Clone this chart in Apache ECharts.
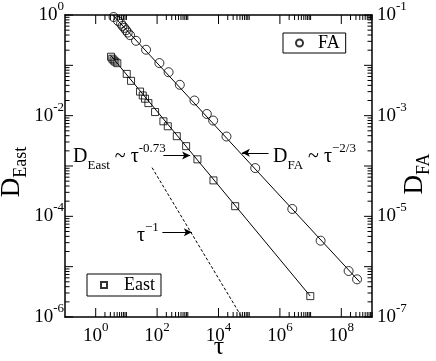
<!DOCTYPE html>
<html><head><meta charset="utf-8">
<script src="https://cdn.jsdelivr.net/npm/echarts@6/dist/echarts.min.js"></script>
<style>html,body{margin:0;padding:0;background:#fff}#c{width:436px;height:361px}</style>
</head><body><div id="c"></div>
<script>
// ---------------- data ----------------
// FA series (right axis, D_FA)
const faTau = [3.81, 5.34, 6.69, 7.48, 8.57, 9.73, 11.06, 13.15, 20.6, 43.7, 118.7, 236.7, 549, 1644, 4171, 6690, 18190, 1.57e5, 2.53e6, 2.12e7, 1.73e8, 3.26e8];
const faD = [0.0913, 0.0762, 0.0673, 0.0607, 0.0554, 0.0499, 0.0448, 0.0397, 0.0307, 0.0204, 0.0111, 0.0073, 0.0041, 0.00200, 0.00108, 8.0e-4, 3.85e-4, 9.1e-5, 1.40e-5, 3.28e-6, 8.2e-7, 5.6e-7];
// East series (left axis, D_East)
const eastTau = [3.16, 3.48, 3.86, 4.36, 5.06, 10.26, 14.17, 27.8, 34.1, 40.5, 52.0, 85.9, 160.3, 223, 438, 881, 2060, 6850, 34930, 9.77e6];
const eastD = [0.1483, 0.1355, 0.1253, 0.1181, 0.1104, 0.0676, 0.0492, 0.0301, 0.0252, 0.0217, 0.01775, 0.0118, 0.00773, 0.00616, 0.00391, 0.00248, 0.001356, 5.18e-4, 1.59e-4, 2.60e-6];
// fitted power laws (end points)
const faFitTau = [3.58, 3.96e8];
const faFitD = [0.1, 4.98e-7];
const eastFitTau = [3.04, 9.77e6];
const eastFitD = [0.159, 2.6e-6];
// reference slope tau^-1 (dashed)
const refTau = [68.6, 5.7e4];
const refD = [9.27e-4, 1e-6];
// annotation arrows (data coordinates: tail -> head)
const eastArrowTau = [160.3, 1191];
const eastArrowD = [1.61e-3, 1.61e-3];
const faArrowTau = [4.26e5, 5.78e4];
const faArrowD = [1.83e-4, 1.83e-4];
const refArrowTau = [148.6, 1352];
const refArrowD = [4.83e-5, 4.83e-5];
// axis ranges
const xRange = [0.1, 1e9];
const yLeftRange = [1e-6, 1];
const yRightRange = [1e-7, 0.1];
// tick values
const xMajorExp = [0, 2, 4, 6, 8];
const yMajorExp = [-6, -5, -4, -3, -2, -1, 0];
const minorMult = [2, 3, 4, 5, 6, 7, 8, 9];

// ---------------- build ----------------
const SERIF = '"Liberation Serif","DejaVu Serif",serif';
const zip = (a, b) => a.map((v, i) => [v, b[i]]);
const MAJ = 9, MIN = 5;

const xTicks = [];
xMajorExp.forEach(e => {
  xTicks.push([Math.pow(10, e), 1e-3, MAJ]);
  minorMult.concat([10]).forEach(k => xTicks.push([k * Math.pow(10, e), 1e-3, MIN]));
});
const yTicks = [];
yMajorExp.forEach(e => {
  yTicks.push([1, Math.pow(10, e), MAJ - 1]);
  if (e < 0) minorMult.forEach(k => yTicks.push([1, k * Math.pow(10, e), MIN - 0.5]));
});

const expOf = v => Math.round(Math.log10(v));
const labelRich = {
  b: { fontFamily: SERIF, fontSize: 19, lineHeight: 30, color: '#000' },
  s: { fontFamily: SERIF, fontSize: 13, lineHeight: 14, verticalAlign: 'top', color: '#000' }
};
const fmt = keep => v => { const e = expOf(v); return keep(e) ? '{b|10}{s|' + e + '}' : ''; };

const axisLine = { show: true, onZero: false, lineStyle: { color: '#000', width: 1.5 } };
const baseAxis = {
  type: 'log', logBase: 10, axisLine, axisTick: { show: false }, minorTick: { show: false },
  splitLine: { show: false }, minorSplitLine: { show: false }
};

const annRich = {
  b: { fontFamily: SERIF, fontSize: 20, lineHeight: 30, fill: '#000' },
  sub: { fontFamily: SERIF, fontSize: 13, lineHeight: 12, verticalAlign: 'bottom', fill: '#000' },
  sup: { fontFamily: SERIF, fontSize: 13, lineHeight: 11, verticalAlign: 'top', fill: '#000' }
};
const titleRich = {
  d: { fontFamily: SERIF, fontSize: 27, lineHeight: 36, fill: '#000' },
  e: { fontFamily: SERIF, fontSize: 18, lineHeight: 18, verticalAlign: 'bottom', fill: '#000' }
};
const txt = (x, y, text, rich) => ({
  type: 'text', x, y, silent: true,
  style: { text, rich, fill: '#000', align: 'left', verticalAlign: 'middle', textAlign: 'left', textVerticalAlign: 'middle' }
});
const vtitle = (x, y, text) => ({
  type: 'text', x, y, silent: true, rotation: Math.PI / 2,
  style: { text, rich: titleRich, fill: '#000', align: 'center', verticalAlign: 'middle', textAlign: 'center', textVerticalAlign: 'middle' }
});

const arrowLine = (tau, d) => ({
  silent: true, symbol: ['none', 'arrow'], symbolSize: [6, 8], animation: false,
  label: { show: false }, lineStyle: { color: '#000', width: 1, type: 'solid' },
  emphasis: { disabled: true },
  data: [[{ coord: [tau[0], d[0]] }, { coord: [tau[1], d[1]] }]]
});

const legendText = pad => ({ fontFamily: SERIF, fontSize: 18, color: '#000', padding: [0, 0, 0, pad] });

const tickStyle = { stroke: '#000', lineWidth: 1 };
const chart = echarts.init(document.getElementById('c'), null, { renderer: 'canvas' });
chart.setOption({
  animation: false,
  backgroundColor: '#fff',
  grid: { left: 65, right: 64, top: 13, bottom: 44 },
  xAxis: [
    Object.assign({}, baseAxis, { min: xRange[0], max: xRange[1], position: 'bottom', splitNumber: 10,
      axisLabel: { formatter: fmt(e => e % 2 === 0), rich: labelRich, margin: 4 } }),
    Object.assign({}, baseAxis, { min: xRange[0], max: xRange[1], position: 'top', axisLabel: { show: false } })
  ],
  yAxis: [
    Object.assign({}, baseAxis, { min: yLeftRange[0], max: yLeftRange[1], position: 'left', splitNumber: 6,
      axisLabel: { formatter: fmt(e => e % 2 === 0), rich: labelRich, margin: 1 } }),
    Object.assign({}, baseAxis, { min: yRightRange[0], max: yRightRange[1], position: 'right', splitNumber: 6,
      axisLabel: { formatter: fmt(e => Math.abs(e) % 2 === 1), rich: labelRich, margin: 5 } })
  ],
  legend: [
    { data: ['FA'], left: 283, top: 33, orient: 'horizontal', selectedMode: false,
      borderColor: '#000', borderWidth: 1, borderRadius: 0, padding: [1, 6, 1, 12],
      itemWidth: 7, itemHeight: 7, symbolKeepAspect: true, textStyle: legendText(10) },
    { data: ['East'], left: 87, top: 274, orient: 'horizontal', selectedMode: false,
      borderColor: '#000', borderWidth: 1, borderRadius: 0, padding: [2, 6, 2, 13],
      itemWidth: 6, itemHeight: 6, symbolKeepAspect: true, textStyle: legendText(12) }
  ],
  series: [
    { name: 'FA', type: 'scatter', xAxisIndex: 0, yAxisIndex: 1, data: zip(faTau, faD),
      symbol: 'circle', symbolSize: 9, silent: true,
      itemStyle: { color: 'rgba(255,255,255,0)', borderColor: '#000', borderWidth: 1 } },
    { name: 'East', type: 'scatter', xAxisIndex: 0, yAxisIndex: 0, data: zip(eastTau, eastD),
      symbol: 'rect', symbolSize: 7, silent: true,
      itemStyle: { color: 'rgba(255,255,255,0)', borderColor: '#000', borderWidth: 1 } },
    { name: 'faFit', type: 'line', xAxisIndex: 0, yAxisIndex: 1, data: zip(faFitTau, faFitD),
      showSymbol: false, symbol: 'none', silent: true, lineStyle: { color: '#000', width: 1 },
      markLine: arrowLine(faArrowTau, faArrowD) },
    { name: 'eastFit', type: 'line', xAxisIndex: 0, yAxisIndex: 0, data: zip(eastFitTau, eastFitD),
      showSymbol: false, symbol: 'none', silent: true, lineStyle: { color: '#000', width: 1 },
      markLine: arrowLine(eastArrowTau, eastArrowD) },
    { name: 'ref', type: 'line', xAxisIndex: 0, yAxisIndex: 0, data: zip(refTau, refD),
      showSymbol: false, symbol: 'none', silent: true, lineStyle: { color: '#000', width: 1, type: [3, 2] },
      markLine: arrowLine(refArrowTau, refArrowD) },
    { name: 'xticks', type: 'custom', xAxisIndex: 0, yAxisIndex: 0, data: xTicks, clip: false, silent: true,
      encode: { x: 0, y: 1 },
      renderItem: (params, api) => {
        const cs = params.coordSys;
        const x = api.coord([api.value(0), 1e-3])[0];
        const len = api.value(2);
        const yb = cs.y + cs.height, yt = cs.y;
        return { type: 'group', children: [
          { type: 'line', shape: { x1: x, y1: yb, x2: x, y2: yb - len }, style: tickStyle },
          { type: 'line', shape: { x1: x, y1: yt, x2: x, y2: yt + len }, style: tickStyle }
        ] };
      } },
    { name: 'yticks', type: 'custom', xAxisIndex: 0, yAxisIndex: 0, data: yTicks, clip: false, silent: true,
      encode: { x: 0, y: 1 },
      renderItem: (params, api) => {
        const cs = params.coordSys;
        const y = api.coord([1, api.value(1)])[1];
        const len = api.value(2);
        const xl = cs.x, xr = cs.x + cs.width;
        return { type: 'group', children: [
          { type: 'line', shape: { x1: xl, y1: y, x2: xl + len, y2: y }, style: tickStyle },
          { type: 'line', shape: { x1: xr, y1: y, x2: xr - len, y2: y }, style: tickStyle }
        ] };
      } }
  ],
  graphic: [
    txt(73, 157, '{b|D}{sub|East}{b| ~ τ}{sup|-0.73}', annRich),
    txt(273, 157, '{b|D}{sub|FA}{b| ~ τ}{sup|−2/3}', annRich),
    txt(137, 236, '{b|τ}{sup|−1}', annRich),
    vtitle(12, 172, '{d|D}{e|East}'),
    vtitle(415, 174, '{d|D}{e|FA}'),
    { type: 'text', x: 219, y: 347, silent: true,
      style: { text: 'τ', fill: '#000', font: '26px ' + SERIF, align: 'center', verticalAlign: 'middle', textAlign: 'center', textVerticalAlign: 'middle' } }
  ]
});
</script>
</body></html>
